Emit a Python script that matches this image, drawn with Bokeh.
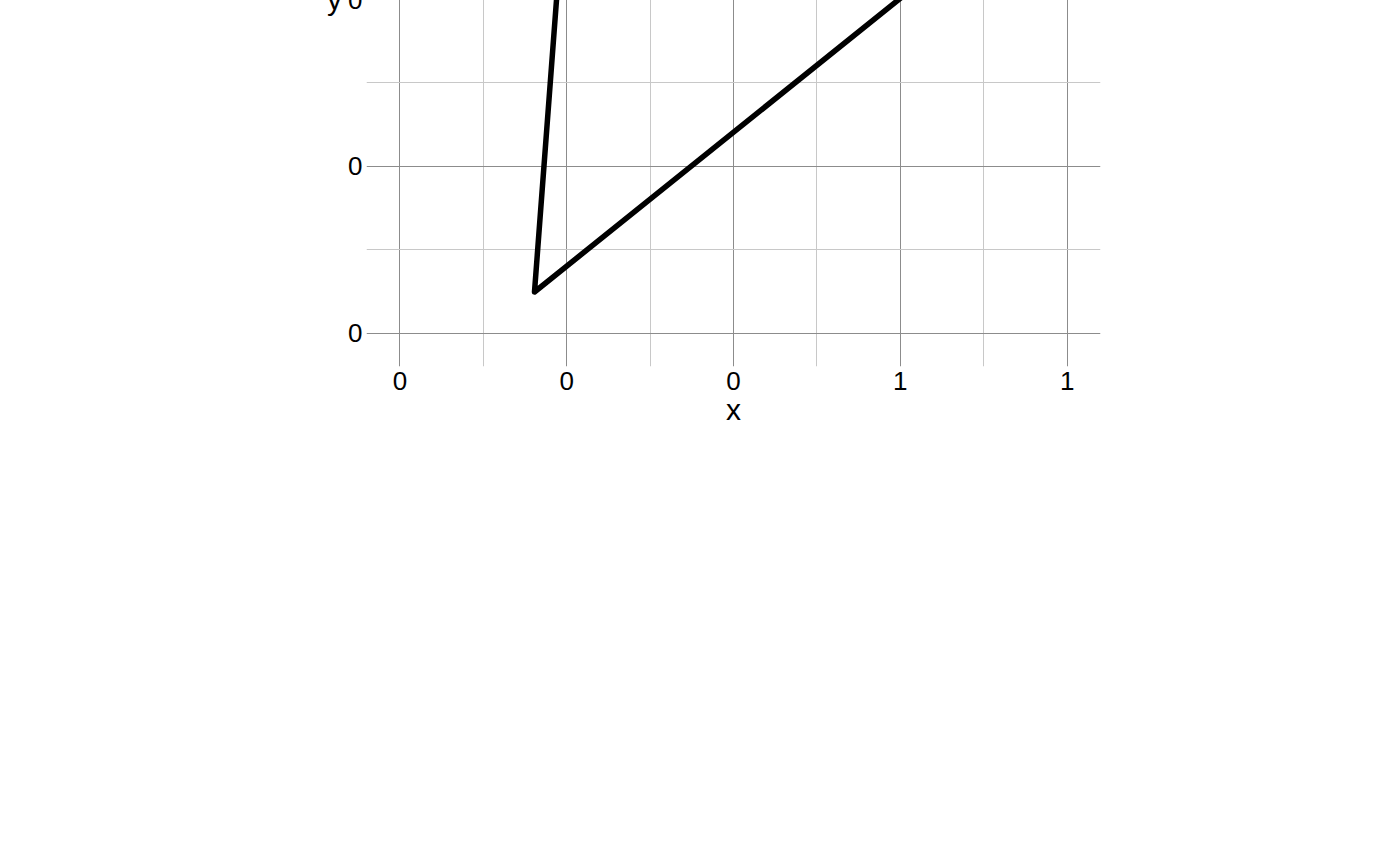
from bokeh.plotting import figure
from bokeh.models import Range1d, PrintfTickFormatter, FixedTicker
from bokeh.embed import file_html
from bokeh.resources import INLINE

# ---- data ----
x_ticks = [0.0, 0.2, 0.4, 0.6, 0.8]
x_minor = [0.1, 0.3, 0.5, 0.7]
y_ticks = [0.0, 0.2, 0.4, 0.6, 0.8]
y_minor = [0.1, 0.3, 0.5, 0.7]
path_x = [0.218, 0.1614, 0.800, 0.218]
path_y = [0.800, 0.0493, 0.562, 0.800]

FONT = "Liberation Sans"

p = figure(
    frame_width=734, frame_height=734,
    x_range=Range1d(-0.04, 0.84), y_range=Range1d(-0.04, 0.84),
    output_backend="svg", toolbar_location=None,
    min_border_left=366, min_border_right=284,
    min_border_top=10, min_border_bottom=90,
)
p.margin = (-378, 0, 0, 0)
p.outline_line_color = None

for ax, ticks, minor in ((p.xaxis[0], x_ticks, x_minor), (p.yaxis[0], y_ticks, y_minor)):
    ax.ticker = FixedTicker(ticks=ticks, minor_ticks=minor)
    ax.formatter = PrintfTickFormatter(format="%.0f")
    ax.axis_line_color = None
    ax.major_tick_line_color = None
    ax.minor_tick_line_color = None
    ax.major_tick_in = 0
    ax.major_tick_out = 0
    ax.minor_tick_in = 0
    ax.minor_tick_out = 0
    ax.major_label_text_font = FONT
    ax.major_label_text_font_size = "26px"
    ax.major_label_text_color = "black"
    ax.major_label_standoff = 5
    ax.axis_label_text_font = FONT
    ax.axis_label_text_font_size = "30px"
    ax.axis_label_text_font_style = "normal"
    ax.axis_label_text_color = "black"

p.xaxis.axis_label = "x"
p.xaxis.axis_label_standoff = 0

p.yaxis.axis_label = "y"
p.yaxis.axis_label_orientation = "horizontal"
p.yaxis.axis_label_standoff = 3
p.yaxis.major_label_standoff = 4

for g, ticks, minor in ((p.xgrid[0], x_ticks, x_minor), (p.ygrid[0], y_ticks, y_minor)):
    g.ticker = FixedTicker(ticks=ticks, minor_ticks=minor)
    g.grid_line_color = "#8c8c8c"
    g.grid_line_width = 1
    g.minor_grid_line_color = "#c8c8c8"
    g.minor_grid_line_width = 1

p.line(path_x, path_y, line_color="black", line_width=5.5, line_join="round", line_cap="round")

open("out.html", "w").write(file_html(p, INLINE))
